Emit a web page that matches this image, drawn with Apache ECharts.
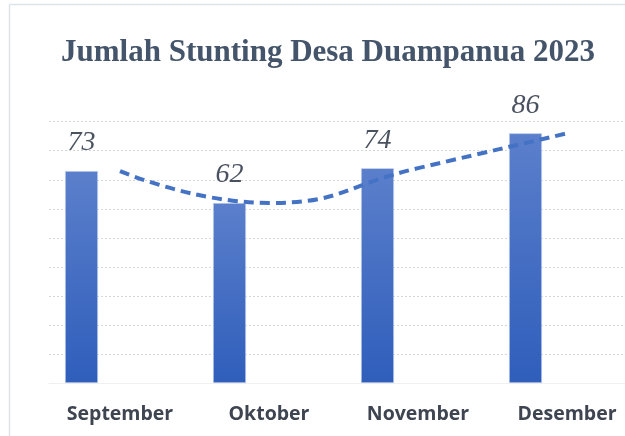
<!DOCTYPE html>
<html>
<head>
<meta charset="utf-8">
<script src="https://cdn.jsdelivr.net/npm/echarts@6/dist/echarts.min.js"></script>
<style>
  html, body { margin: 0; padding: 0; background: #fff; }
  #chart { width: 625px; height: 436px; }
</style>
</head>
<body>
<div id="chart"></div>
<script>
// data
var categories = ['September', 'Oktober', 'November', 'Desember'];
var stunting = [73, 62, 74, 86];
var yTicks = [0, 90, 10]; // min, max, interval

var chart = echarts.init(document.getElementById('chart'));

var gridTop = 121.7, gridBottom = 53;

function yAxisFor(gridIndex, showLines) {
  return {
    type: 'value',
    gridIndex: gridIndex,
    min: yTicks[0],
    max: yTicks[1],
    interval: yTicks[2],
    axisLabel: { show: false },
    axisLine: { show: false },
    axisTick: { show: false },
    splitLine: {
      show: showLines,
      lineStyle: { color: '#d4d6da', type: [2, 2], width: 1 }
    }
  };
}

var option = {
  backgroundColor: '#ffffff',
  animation: false,
  title: {
    text: 'Jumlah Stunting Desa Duampanua 2023',
    left: 56,
    top: 32,
    textStyle: {
      fontFamily: 'Liberation Serif',
      fontWeight: 'bold',
      fontSize: 31,
      color: '#44546a'
    }
  },
  // frame lines round the picture
  graphic: [
    { type: 'line', shape: { x1: 9.5, y1: 4.5, x2: 625, y2: 4.5 }, style: { stroke: '#dfe4ea', lineWidth: 1.5 } },
    { type: 'line', shape: { x1: 9.5, y1: 4.5, x2: 9.5, y2: 436 }, style: { stroke: '#dfe4ea', lineWidth: 1.5 } }
  ],
  grid: [
    // bars
    { left: 7.5, right: 25.5, top: gridTop, bottom: gridBottom },
    // trend line and labels
    { left: 120, right: 58, top: gridTop, bottom: gridBottom },
    // gridlines
    { left: 49, right: 0, top: gridTop, bottom: gridBottom }
  ],
  xAxis: [
    {
      type: 'category', gridIndex: 0, data: categories,
      axisLine: { show: false }, axisTick: { show: false }, axisLabel: { show: false }
    },
    {
      type: 'category', gridIndex: 1, data: categories, boundaryGap: false,
      axisLine: { show: false }, axisTick: { show: false },
      axisLabel: {
        margin: 21,
        fontFamily: 'Open Sans',
        fontWeight: 'bold',
        fontSize: 19.5,
        color: '#3e4550'
      }
    },
    {
      type: 'category', gridIndex: 2, data: categories,
      axisLine: { show: true, lineStyle: { color: '#f0f0f0' } },
      axisTick: { show: false }, axisLabel: { show: false }
    }
  ],
  yAxis: [yAxisFor(0, false), yAxisFor(1, false), yAxisFor(2, true)],
  series: [
    {
      type: 'bar',
      xAxisIndex: 0,
      yAxisIndex: 0,
      data: stunting,
      barWidth: 33,
      z: 3,
      itemStyle: {
        color: new echarts.graphic.LinearGradient(0, 0, 0, 1, [
          { offset: 0, color: '#5b7fcb' },
          { offset: 1, color: '#2f5ebb' }
        ]),
        borderColor: '#d6e0f3',
        borderWidth: 0.6
      },
      label: {
        show: true,
        position: 'top',
        distance: 14,
        fontFamily: 'Liberation Serif',
        fontStyle: 'italic',
        fontSize: 28,
        color: '#4a5260'
      }
    },
    {
      type: 'line',
      xAxisIndex: 1,
      yAxisIndex: 1,
      data: stunting,
      smooth: true,
      symbol: 'none',
      z: 4,
      lineStyle: { color: '#4472c4', width: 4, type: [10, 6] }
    }
  ]
};

chart.setOption(option);
</script>
</body>
</html>
